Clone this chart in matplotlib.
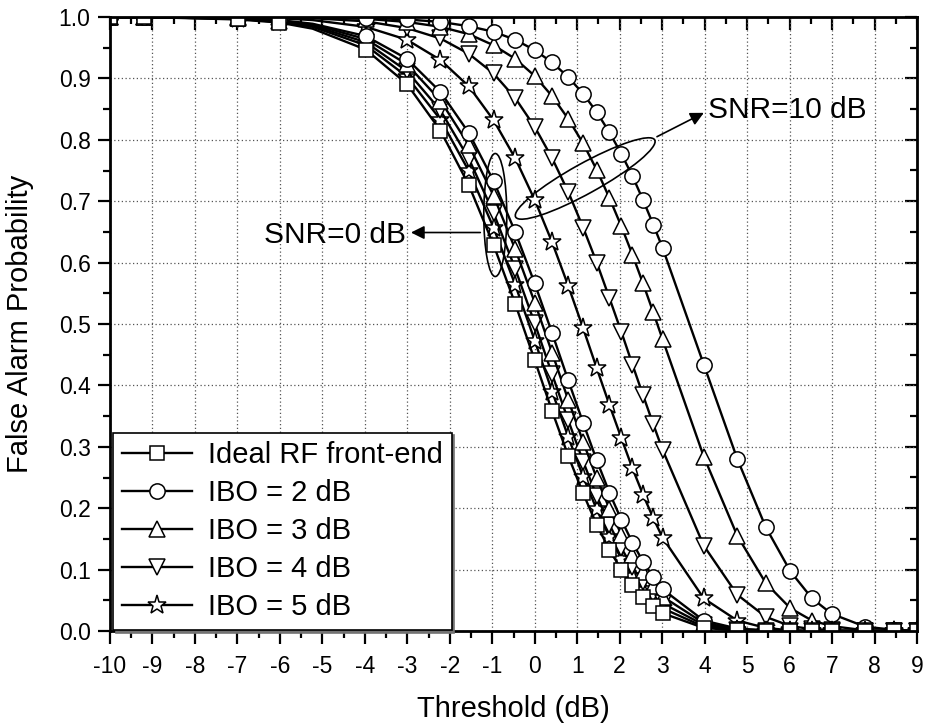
import matplotlib
matplotlib.use("Agg")
import matplotlib.pyplot as plt
from matplotlib.patches import Ellipse
from matplotlib.ticker import MultipleLocator
import matplotlib.transforms as mtransforms

plt.rcParams['font.family'] = ['Liberation Sans', 'DejaVu Sans']
plt.rcParams['axes.unicode_minus'] = False

# threshold grid (dB), shared by all curves
threshold_db = [-10.00, -9.21, -6.99, -6.02, -5.23, -3.98, -3.01, -2.22, -1.55, -0.97,
                -0.46, 0.00, 0.41, 0.79, 1.14, 1.46, 1.76, 2.04, 2.30, 2.55,
                2.79, 3.01, 3.98, 4.77, 5.44, 6.02, 6.53, 6.99, 7.78, 8.45, 9.00]

# ideal RF front-end (same for both SNRs)
pfa_ideal = [1.000, 1.000, 0.996, 0.991, 0.981, 0.947, 0.891, 0.815, 0.726, 0.629,
             0.533, 0.441, 0.358, 0.285, 0.224, 0.173, 0.132, 0.100, 0.075, 0.055,
             0.040, 0.029, 0.005, 0.001, 0.000, 0.000, 0.000, 0.000, 0.000, 0.000, 0.000]

# SNR = 0 dB
pfa_snr0_ibo2 = [1.000, 1.000, 0.998, 0.995, 0.989, 0.969, 0.932, 0.878, 0.811, 0.733,
                 0.650, 0.566, 0.485, 0.408, 0.339, 0.278, 0.225, 0.181, 0.144, 0.113,
                 0.088, 0.068, 0.017, 0.004, 0.001, 0.000, 0.000, 0.000, 0.000, 0.000, 0.000]
pfa_snr0_ibo3 = [1.000, 1.000, 0.998, 0.994, 0.988, 0.964, 0.923, 0.864, 0.791, 0.709,
                 0.622, 0.535, 0.453, 0.376, 0.308, 0.249, 0.199, 0.157, 0.124, 0.096,
                 0.073, 0.056, 0.013, 0.003, 0.001, 0.000, 0.000, 0.000, 0.000, 0.000, 0.000]
pfa_snr0_ibo4 = [1.000, 1.000, 0.997, 0.993, 0.986, 0.959, 0.912, 0.848, 0.769, 0.681,
                 0.590, 0.501, 0.418, 0.343, 0.276, 0.220, 0.173, 0.135, 0.104, 0.079,
                 0.060, 0.045, 0.010, 0.002, 0.000, 0.000, 0.000, 0.000, 0.000, 0.000, 0.000]
pfa_snr0_ibo5 = [1.000, 1.000, 0.997, 0.992, 0.984, 0.954, 0.903, 0.833, 0.749, 0.657,
                 0.564, 0.473, 0.390, 0.316, 0.251, 0.198, 0.153, 0.118, 0.090, 0.067,
                 0.050, 0.037, 0.007, 0.001, 0.000, 0.000, 0.000, 0.000, 0.000, 0.000, 0.000]

# SNR = 10 dB
pfa_snr10_ibo2 = [1.000, 1.000, 1.000, 1.000, 1.000, 0.999, 0.996, 0.992, 0.985, 0.976,
                  0.963, 0.946, 0.926, 0.902, 0.875, 0.845, 0.812, 0.777, 0.741, 0.702,
                  0.662, 0.624, 0.434, 0.280, 0.169, 0.097, 0.053, 0.028, 0.007, 0.002, 0.000]
pfa_snr10_ibo3 = [1.000, 1.000, 1.000, 1.000, 0.999, 0.997, 0.992, 0.984, 0.972, 0.954,
                  0.932, 0.904, 0.871, 0.834, 0.794, 0.751, 0.705, 0.659, 0.613, 0.566,
                  0.519, 0.475, 0.284, 0.155, 0.078, 0.037, 0.017, 0.008, 0.001, 0.000, 0.000]
pfa_snr10_ibo4 = [1.000, 1.000, 1.000, 0.999, 0.998, 0.993, 0.982, 0.965, 0.940, 0.908,
                  0.868, 0.821, 0.770, 0.715, 0.657, 0.600, 0.542, 0.487, 0.434, 0.384,
                  0.337, 0.295, 0.139, 0.059, 0.023, 0.008, 0.003, 0.001, 0.000, 0.000, 0.000]
pfa_snr10_ibo5 = [1.000, 1.000, 0.999, 0.998, 0.995, 0.984, 0.963, 0.930, 0.887, 0.832,
                  0.770, 0.702, 0.633, 0.562, 0.493, 0.428, 0.368, 0.314, 0.265, 0.222,
                  0.184, 0.152, 0.053, 0.017, 0.005, 0.001, 0.000, 0.000, 0.000, 0.000, 0.000]

legend_labels = ["Ideal RF front-end", "IBO = 2 dB", "IBO = 3 dB", "IBO = 4 dB", "IBO = 5 dB"]
xtick_vals = list(range(-10, 10))
ytick_vals = [0.0, 0.1, 0.2, 0.3, 0.4, 0.5, 0.6, 0.7, 0.8, 0.9, 1.0]

# no marker on the -5.23 dB point
mark_idx = [i for i in range(len(threshold_db)) if i != 4]

fig = plt.figure(figsize=(9.25, 7.23), dpi=100)
ax = fig.add_axes([110/925, 1 - 631/723, 807/925, 614/723])

style = dict(color='black', lw=1.7, mfc='white', mec='black', mew=1.1, markevery=mark_idx)

# SNR=10 dB curves first, SNR=0 and ideal on top
ax.plot(threshold_db, pfa_snr10_ibo5, marker='*', ms=14, **style)
ax.plot(threshold_db, pfa_snr10_ibo4, marker='v', ms=12, **style)
ax.plot(threshold_db, pfa_snr10_ibo3, marker='^', ms=12, **style)
ax.plot(threshold_db, pfa_snr10_ibo2, marker='o', ms=11, **style)

h5, = ax.plot(threshold_db, pfa_snr0_ibo5, marker='*', ms=14, **style)
h4, = ax.plot(threshold_db, pfa_snr0_ibo4, marker='v', ms=12, **style)
h3, = ax.plot(threshold_db, pfa_snr0_ibo3, marker='^', ms=12, **style)
h2, = ax.plot(threshold_db, pfa_snr0_ibo2, marker='o', ms=11, **style)
h1, = ax.plot(threshold_db, pfa_ideal, marker='s', ms=10, **style)

ax.set_xlim(-10, 9)
ax.set_ylim(0, 1)
ax.set_xticks(xtick_vals)
ax.set_yticks(ytick_vals)
ax.set_yticklabels(["%.1f" % v for v in ytick_vals])
ax.xaxis.set_minor_locator(MultipleLocator(0.5))
ax.yaxis.set_minor_locator(MultipleLocator(0.05))
ax.tick_params(which='both', direction='out', width=1.6, labelsize=16.5, top=False, right=False)
ax.tick_params(which='major', length=9)
ax.tick_params(which='minor', length=5)
ax.tick_params(axis='x', pad=8)
ax.tick_params(axis='y', pad=5)

for sp in ax.spines.values():
    sp.set_linewidth(2.0)

# inward ticks on top and right
top = ax.secondary_xaxis('top')
top.set_xticks(xtick_vals)
top.xaxis.set_minor_locator(MultipleLocator(0.5))
top.tick_params(which='both', direction='in', width=1.6, labeltop=False)
top.tick_params(which='major', length=9)
top.tick_params(which='minor', length=5)
right = ax.secondary_yaxis('right')
right.set_yticks(ytick_vals)
right.yaxis.set_minor_locator(MultipleLocator(0.05))
right.tick_params(which='both', direction='in', width=1.6, labelright=False)
right.tick_params(which='major', length=9)
right.tick_params(which='minor', length=5)

ax.grid(False, which='minor')
ax.grid(True, which='major', linestyle=(0, (1, 2)), color='#555555', lw=0.9)
ax.set_axisbelow(True)

ax.set_xlabel("Threshold (dB)", fontsize=21)
ax.set_ylabel("False Alarm Probability", fontsize=21)
ax.xaxis.set_label_coords(0.5, -0.105)
ax.yaxis.set_label_coords(-0.094, 0.5)

leg = ax.legend([h1, h2, h3, h4, h5], legend_labels, loc='lower left',
                bbox_to_anchor=(0.004, 0.002), borderaxespad=0, fontsize=21,
                handlelength=2.4, handletextpad=0.55, labelspacing=0.34,
                borderpad=0.3, fancybox=False, shadow={'color': '0.45', 'alpha': 1},
                framealpha=1)
leg.get_frame().set_edgecolor('black')
leg.get_frame().set_linewidth(1.2)

# annotation ellipses (sizes in inches, centred on data points)
e0 = Ellipse((0, 0), 0.23, 1.23, angle=0, fill=False, ec='black', lw=1.2,
             transform=fig.dpi_scale_trans + mtransforms.ScaledTranslation(-0.929, 0.6775, ax.transData))
ax.add_patch(e0)
e10 = Ellipse((0, 0), 1.59, 0.30, angle=29, fill=False, ec='black', lw=1.2,
              transform=fig.dpi_scale_trans + mtransforms.ScaledTranslation(1.188, 0.737, ax.transData))
ax.add_patch(e10)

ax.annotate("", xy=(-2.98, 0.649), xytext=(-1.216, 0.649),
            arrowprops=dict(arrowstyle='-|>', color='black', lw=1.2, mutation_scale=20))
ax.text(-3.03, 0.632, "SNR=0 dB", fontsize=21.5, ha='right', va='baseline')

ax.annotate("", xy=(4.04, 0.846), xytext=(2.82, 0.803),
            arrowprops=dict(arrowstyle='-|>', color='black', lw=1.2, mutation_scale=20))
ax.text(4.07, 0.835, "SNR=10 dB", fontsize=21.5, ha='left', va='baseline')

fig.savefig("out.png", dpi=100)
